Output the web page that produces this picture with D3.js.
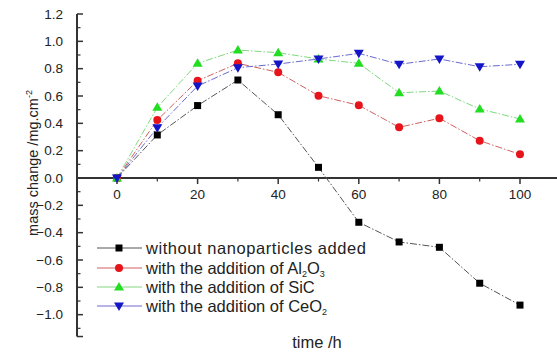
<!DOCTYPE html>
<html>
<head>
<meta charset="utf-8">
<script src="https://cdn.jsdelivr.net/npm/d3@7"></script>
<style>
  body { margin: 0; background: #fff; }
  text { font-family: "Liberation Sans", Arial, sans-serif; fill: #222; }
</style>
</head>
<body>
<div id="chart"></div>
<script>
// time in hours
var hours = [0, 10, 20, 30, 40, 50, 60, 70, 80, 90, 100];

// mass change for each condition, mg/cm^2
var noParticles = [0, 0.315, 0.53, 0.717, 0.463, 0.078, -0.324, -0.468, -0.507, -0.77, -0.93];
var al2o3 = [0, 0.424, 0.712, 0.839, 0.773, 0.602, 0.532, 0.371, 0.437, 0.273, 0.173];
var sic = [0, 0.517, 0.839, 0.936, 0.917, 0.871, 0.839, 0.624, 0.636, 0.505, 0.432];
var ceo2 = [0, 0.368, 0.673, 0.807, 0.834, 0.871, 0.912, 0.832, 0.871, 0.814, 0.832];

var yTicks = [-1.0, -0.8, -0.6, -0.4, -0.2, 0.0, 0.2, 0.4, 0.6, 0.8, 1.0, 1.2];
var xTicks = [0, 20, 40, 60, 80, 100];

var series = [
  {name: "without nanoparticles added", values: noParticles, color: "#000", line: "#555", shape: "square"},
  {name: "Al2O3", values: al2o3, color: "#e8141b", line: "#d06060", shape: "circle"},
  {name: "SiC", values: sic, color: "#22dd22", line: "#80d880", shape: "up"},
  {name: "CeO2", values: ceo2, color: "#1515c8", line: "#6a6ad0", shape: "down"}
];

var width = 557, height = 354;

var svg = d3.select("#chart")
  .append("svg")
    .attr("width", width)
    .attr("height", height);

var x = d3.scaleLinear()
  .domain([0, 100])
  .range([117, 520]);

var y = d3.scaleLinear()
  .domain([0, 1.2])
  .range([178, 14]);

// Y axis, ticks pointing inward
var yAxis = svg.append("g")
  .attr("transform", "translate(77,0)");
yAxis.append("line")
  .attr("y1", y(1.2)).attr("y2", y(-1.16))
  .attr("stroke", "#333").attr("stroke-width", 2);
yAxis.selectAll(".major")
  .data(yTicks.concat([-1.16]))
  .enter().append("line")
    .attr("x1", 0).attr("x2", 6)
    .attr("y1", d => y(d)).attr("y2", d => y(d))
    .attr("stroke", "#333").attr("stroke-width", 1.5);
yAxis.selectAll(".minor")
  .data(d3.range(-1.1, 1.2, 0.2))
  .enter().append("line")
    .attr("x1", 0).attr("x2", 3.5)
    .attr("y1", d => y(d)).attr("y2", d => y(d))
    .attr("stroke", "#333").attr("stroke-width", 1.2);
yAxis.selectAll(".lab")
  .data(yTicks)
  .enter().append("text")
    .attr("x", -14)
    .attr("y", d => y(d))
    .attr("dy", "0.35em")
    .attr("text-anchor", "end")
    .attr("font-size", 13.5)
    .text(d => d3.format(".1f")(d));

// X axis at y = 0
var xAxis = svg.append("g");
xAxis.append("line")
  .attr("x1", 77).attr("x2", 557)
  .attr("y1", y(0)).attr("y2", y(0))
  .attr("stroke", "#333").attr("stroke-width", 2);
xAxis.selectAll(".major")
  .data(xTicks)
  .enter().append("line")
    .attr("x1", d => x(d)).attr("x2", d => x(d))
    .attr("y1", y(0)).attr("y2", y(0) + 6)
    .attr("stroke", "#333").attr("stroke-width", 1.5);
xAxis.selectAll(".minor")
  .data([10, 30, 50, 70, 90, 110])
  .enter().append("line")
    .attr("x1", d => x(d)).attr("x2", d => x(d))
    .attr("y1", y(0)).attr("y2", y(0) + 3.5)
    .attr("stroke", "#333").attr("stroke-width", 1.2);
xAxis.selectAll(".lab")
  .data(xTicks)
  .enter().append("text")
    .attr("x", d => x(d))
    .attr("y", y(0) + 21)
    .attr("text-anchor", "middle")
    .attr("font-size", 13.5)
    .text(d => d);

// axis titles
svg.append("text")
  .attr("transform", "translate(38,163) rotate(-90)")
  .attr("text-anchor", "middle")
  .attr("font-size", 14.5)
  .html('mass change /mg.cm<tspan dy="-6" font-size="9">-2</tspan>');

svg.append("text")
  .attr("x", 317).attr("y", 348)
  .attr("text-anchor", "middle")
  .attr("font-size", 16.5)
  .text("time /h");

function drawMarker(g, shape, color) {
  if (shape == "square") {
    g.append("rect").attr("x", -3.5).attr("y", -3.5).attr("width", 7).attr("height", 7).attr("fill", color);
  } else if (shape == "circle") {
    g.append("circle").attr("r", 4).attr("fill", color);
  } else if (shape == "up") {
    g.append("path").attr("d", "M0,-5L5,3.5L-5,3.5Z").attr("fill", color);
  } else {
    g.append("path").attr("d", "M0,5L5,-3.5L-5,-3.5Z").attr("fill", color);
  }
}

var line = d3.line()
  .x((d, i) => x(hours[i]))
  .y(d => y(d));

series.forEach(function(s) {
  svg.append("path")
    .datum(s.values)
    .attr("d", line)
    .attr("fill", "none")
    .attr("stroke", s.line)
    .attr("stroke-width", 1)
    .attr("stroke-dasharray", "7,2,1.5,2");
});

series.forEach(function(s) {
  s.values.forEach(function(v, i) {
    var g = svg.append("g").attr("transform", "translate(" + x(hours[i]) + "," + y(v) + ")");
    drawMarker(g, s.shape, s.color);
  });
});

// legend
var legendY = [248, 268, 287, 306];
var labels = [
  'without nanoparticles added',
  'with the addition of Al<tspan dy="3.5" font-size="9">2</tspan><tspan dy="-3.5">O</tspan><tspan dy="3.5" font-size="9">3</tspan>',
  'with the addition of SiC',
  'with the addition of CeO<tspan dy="3.5" font-size="9">2</tspan>'
];
series.forEach(function(s, i) {
  var g = svg.append("g").attr("transform", "translate(0," + legendY[i] + ")");
  g.append("line").attr("x1", 97).attr("x2", 142).attr("stroke", s.line).attr("stroke-width", 1);
  var m = g.append("g").attr("transform", "translate(119,0)");
  drawMarker(m, s.shape, s.color);
  g.append("text")
    .attr("x", 146)
    .attr("dy", "0.35em")
    .attr("font-size", 16.5)
    .attr("textLength", i == 0 ? 220 : null)
    .html(labels[i]);
});
</script>
</body>
</html>
